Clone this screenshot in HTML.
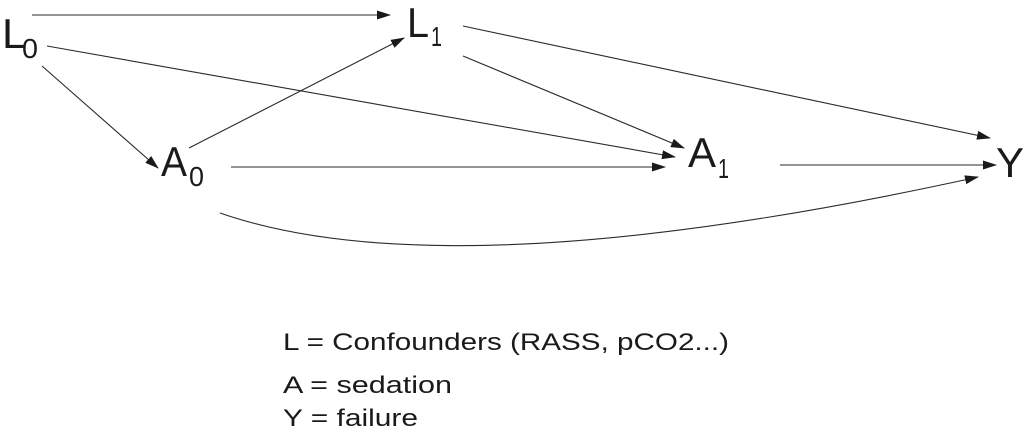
<!DOCTYPE html>
<html><head><meta charset="utf-8"><style>
html,body{margin:0;padding:0;background:#fff;}
svg{display:block;}
text{font-family:"Liberation Sans",Arial,sans-serif;fill:#1a1a1a;}
</style></head><body>
<svg width="1024" height="440" viewBox="0 0 1024 440" xmlns="http://www.w3.org/2000/svg">
<defs>
<marker id="ah" markerWidth="14" markerHeight="10" refX="13" refY="5" orient="auto" markerUnits="userSpaceOnUse">
<path d="M0,0.5 L14,5 L0,9.5 Z" fill="#1a1a1a"/>
</marker>
</defs>
<g stroke="#2a2a2a" stroke-width="1.1" fill="none" marker-end="url(#ah)">
<line x1="32" y1="15" x2="390" y2="15"/>
<line x1="47" y1="46" x2="675" y2="157"/>
<line x1="42" y1="66" x2="158" y2="168"/>
<line x1="189" y1="148" x2="404" y2="38"/>
<line x1="463" y1="26" x2="990" y2="138"/>
<line x1="463" y1="56" x2="684" y2="148"/>
<line x1="231" y1="167" x2="665" y2="167"/>
<line x1="780" y1="165" x2="996" y2="165"/>
<path d="M220,213 Q450,293 978,177"/>
</g>
<text x="2" y="48" font-size="42" textLength="24" lengthAdjust="spacingAndGlyphs">L</text>
<text x="22" y="58" font-size="28" textLength="16" lengthAdjust="spacingAndGlyphs">0</text>
<text x="407" y="37" font-size="42" textLength="22" lengthAdjust="spacingAndGlyphs">L</text>
<text x="431" y="46" font-size="28" textLength="11" lengthAdjust="spacingAndGlyphs">1</text>
<text x="161" y="176" font-size="42" textLength="26" lengthAdjust="spacingAndGlyphs">A</text>
<text x="189" y="186" font-size="28" textLength="15" lengthAdjust="spacingAndGlyphs">0</text>
<text x="688" y="167" font-size="42" textLength="28" lengthAdjust="spacingAndGlyphs">A</text>
<text x="718" y="178" font-size="28" textLength="11" lengthAdjust="spacingAndGlyphs">1</text>
<text x="996" y="177" font-size="42" textLength="28" lengthAdjust="spacingAndGlyphs">Y</text>
<text x="283" y="350" font-size="24" textLength="446" lengthAdjust="spacingAndGlyphs">L = Confounders (RASS, pCO2...)</text>
<text x="283" y="393" font-size="24" textLength="169" lengthAdjust="spacingAndGlyphs">A = sedation</text>
<text x="283" y="426" font-size="24" textLength="135" lengthAdjust="spacingAndGlyphs">Y = failure</text>
</svg>
</body></html>
